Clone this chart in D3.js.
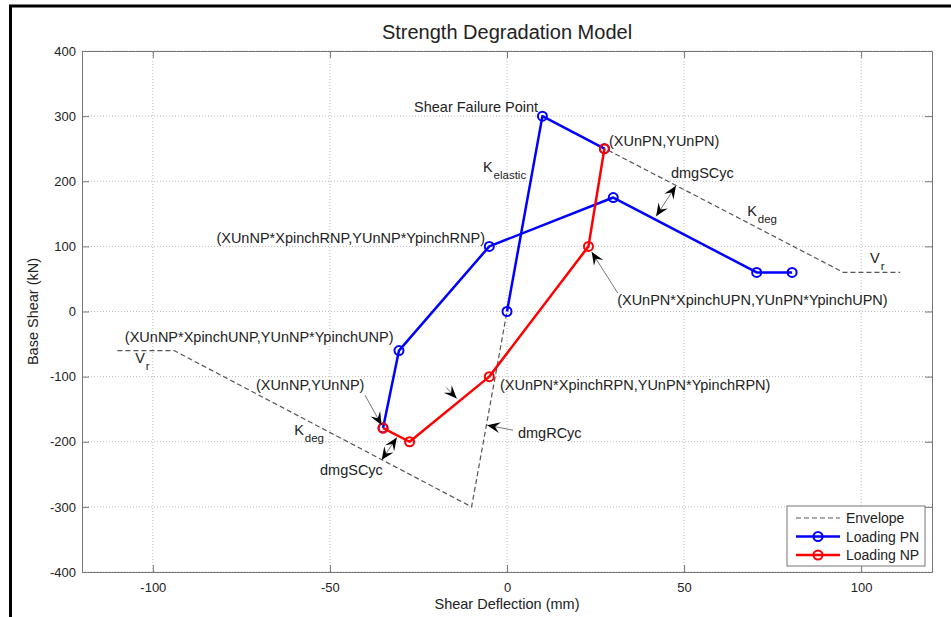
<!DOCTYPE html>
<html>
<head>
<meta charset="utf-8">
<script src="https://cdn.jsdelivr.net/npm/d3@7"></script>
<style>
  body { margin: 0; background: #fff; }
  text { font-family: "Liberation Sans", Arial, sans-serif; fill: #222; }
</style>
</head>
<body>
<script>
// Strength degradation model - hysteresis sketch

// envelope (dashed)
const envelopeX = [-110, -94, -10, 10, 95, 111];
const envelopeY = [-60, -60, -300, 300, 60, 60];

// loading PN: elastic branch, then reloading branch
const pnElasticX = [0, 10, 27.5];
const pnElasticY = [0, 300, 250];
const pnReloadX = [-35, -30.5, -5, 30, 70.5, 80.5];
const pnReloadY = [-179, -60, 100, 175, 60, 60];

// loading NP
const npX = [27.5, 23, -5, -27.5, -35];
const npY = [250, 100, -100, -200, -179];

const xTicks = [-100, -50, 0, 50, 100];
const yTicks = [-400, -300, -200, -100, 0, 100, 200, 300, 400];

// text labels, placed in data units
const labels = [
    { x: 8.8, y: 305.8, t: "Shear Failure Point", anchor: "end" },
    { x: 28.8, y: 253.7, t: "(XUnPN,YUnPN)" },
    { x: -6.8, y: 213.6, t: "K", sub: "elastic" },
    { x: 46.3, y: 204.6, t: "dmgSCyc" },
    { x: 67.8, y: 146.2, t: "K", sub: "deg" },
    { x: 102.5, y: 74.1, t: "V", sub: "r" },
    { x: -6.2, y: 104.8, t: "(XUnNP*XpinchRNP,YUnNP*YpinchRNP)", anchor: "end" },
    { x: 31.1, y: 9.7, t: "(XUnPN*XpinchUPN,YUnPN*YpinchUPN)" },
    { x: -107.9, y: -47.1, t: "(XUnNP*XpinchUNP,YUnNP*YpinchUNP)" },
    { x: -105, y: -79.3, t: "V", sub: "r" },
    { x: -70.9, y: -120.8, t: "(XUnNP,YUnNP)" },
    { x: -60.1, y: -189.8, t: "K", sub: "deg" },
    { x: -52.8, y: -251.2, t: "dmgSCyc" },
    { x: -2.0, y: -120.8, t: "(XUnPN*XpinchRPN,YUnPN*YpinchRPN)" },
    { x: 3.1, y: -194.4, t: "dmgRCyc" }
];

// arrows: from (x1,y1) to tip (x2,y2); both = head at both ends
const arrows = [
    { x1: 31.3, y1: 28.1, x2: 23.9, y2: 91.5 },
    { x1: -40.1, y1: -128.4, x2: -35.4, y2: -174.5 },
    { x1: 1.7, y1: -182.2, x2: -5.6, y2: -174.5 },
    { x1: -17.2, y1: -116.5, x2: -14.2, y2: -133.5 },
    { x1: 42.1, y1: 146.2, x2: 47.7, y2: 193.1, both: true },
    { x1: -35.4, y1: -228.2, x2: -31.1, y2: -193.4, both: true }
];

const width = 951;
const height = 617;
const margin = { top: 51, right: 19, bottom: 45, left: 82 };

const svg = d3.select("body")
    .append("svg")
    .attr("width", width)
    .attr("height", height);

// black frame (only top / left visible in the reference)
svg.append("rect")
    .attr("x", 10.5).attr("y", 6)
    .attr("width", width + 20).attr("height", height + 20)
    .attr("fill", "none")
    .attr("stroke", "#000")
    .attr("stroke-width", 3);

const x = d3.scaleLinear()
    .domain([-120, 120])
    .range([margin.left, width - margin.right]);

const y = d3.scaleLinear()
    .domain([-400, 400])
    .range([height - margin.bottom, margin.top]);

const x0 = x.range()[0], x1 = x.range()[1];
const y0 = y.range()[0], y1 = y.range()[1];

// grid
svg.append("g")
    .selectAll("line.gx")
    .data(xTicks)
    .join("line")
    .attr("x1", d => x(d)).attr("x2", d => x(d))
    .attr("y1", y0).attr("y2", y1)
    .attr("stroke", "#bbb")
    .attr("stroke-dasharray", "1,2");

svg.append("g")
    .selectAll("line.gy")
    .data(yTicks)
    .join("line")
    .attr("x1", x0).attr("x2", x1)
    .attr("y1", d => y(d)).attr("y2", d => y(d))
    .attr("stroke", "#bbb")
    .attr("stroke-dasharray", "1,2");

// axes (ticks pointing inward, on all four sides)
const axisColor = "#777";
const tickLen = 7;
const plain = d => String(d);   // keep the ASCII hyphen like the original

function styleAxis(g) {
    g.select(".domain").attr("stroke", axisColor);
    g.selectAll(".tick line").attr("stroke", axisColor);
    g.selectAll(".tick text")
        .style("font-family", "'Liberation Sans', Arial, sans-serif")
        .style("font-size", "13px")
        .attr("fill", "#222");
}

svg.append("g")
    .attr("transform", `translate(0,${y0})`)
    .call(d3.axisBottom(x).tickValues(xTicks).tickFormat(plain).tickSizeInner(-tickLen).tickSizeOuter(0).tickPadding(11))
    .call(styleAxis);

svg.append("g")
    .attr("transform", `translate(0,${y1})`)
    .call(d3.axisTop(x).tickValues(xTicks).tickSizeInner(-tickLen).tickSizeOuter(0).tickFormat(""))
    .call(styleAxis);

svg.append("g")
    .attr("transform", `translate(${x0},0)`)
    .call(d3.axisLeft(y).tickValues(yTicks).tickFormat(plain).tickSizeInner(-tickLen).tickSizeOuter(0).tickPadding(6))
    .call(styleAxis);

svg.append("g")
    .attr("transform", `translate(${x1},0)`)
    .call(d3.axisRight(y).tickValues(yTicks).tickSizeInner(-tickLen).tickSizeOuter(0).tickFormat(""))
    .call(styleAxis);

// plot lines
const line = d3.line().x(d => x(d[0])).y(d => y(d[1]));
const zip = (xs, ys) => xs.map((v, i) => [v, ys[i]]);

svg.append("path")
    .datum(zip(envelopeX, envelopeY))
    .attr("d", line)
    .attr("fill", "none")
    .attr("stroke", "#555")
    .attr("stroke-width", 1.2)
    .attr("stroke-dasharray", "5,3");

function series(pts, color) {
    svg.append("path")
        .datum(pts)
        .attr("d", line)
        .attr("fill", "none")
        .attr("stroke", color)
        .attr("stroke-width", 2.5)
        .attr("stroke-linejoin", "round");
    svg.append("g")
        .selectAll("circle")
        .data(pts)
        .join("circle")
        .attr("cx", d => x(d[0]))
        .attr("cy", d => y(d[1]))
        .attr("r", 4.5)
        .attr("fill", "none")
        .attr("stroke", color)
        .attr("stroke-width", 2);
}

series(zip(pnElasticX, pnElasticY), "#0000ff");
series(zip(pnReloadX, pnReloadY), "#0000ff");
series(zip(npX, npY), "#ff0000");

// labels
labels.forEach(l => {
    const t = svg.append("text")
        .attr("x", x(l.x))
        .attr("y", y(l.y))
        .attr("text-anchor", l.anchor || "start")
        .style("font-size", "14.5px")
        .text(l.t);
    if (l.sub) {
        t.append("tspan")
            .attr("dy", 7)
            .attr("dx", 1)
            .style("font-size", "11.5px")
            .text(l.sub);
    }
});

// arrows
function arrowHead(px, py, fromX, fromY) {
    const ang = Math.atan2(py - fromY, px - fromX) * 180 / Math.PI;
    svg.append("path")
        .attr("d", "M0,0 L-13,-5.5 L-8,0 L-13,5.5 Z")
        .attr("transform", `translate(${px},${py}) rotate(${ang})`)
        .attr("fill", "#000");
}

arrows.forEach(a => {
    const ax1 = x(a.x1), ay1 = y(a.y1), ax2 = x(a.x2), ay2 = y(a.y2);
    svg.append("line")
        .attr("x1", ax1).attr("y1", ay1)
        .attr("x2", ax2).attr("y2", ay2)
        .attr("stroke", "#777")
        .attr("stroke-width", 1);
    arrowHead(ax2, ay2, ax1, ay1);
    if (a.both) arrowHead(ax1, ay1, ax2, ay2);
});

// title and axis labels
svg.append("text")
    .attr("x", (x0 + x1) / 2)
    .attr("y", 39)
    .attr("text-anchor", "middle")
    .style("font-size", "20px")
    .text("Strength Degradation Model");

svg.append("text")
    .attr("x", (x0 + x1) / 2)
    .attr("y", 609)
    .attr("text-anchor", "middle")
    .style("font-size", "14.5px")
    .text("Shear Deflection (mm)");

svg.append("text")
    .attr("transform", `translate(38,${(y0 + y1) / 2}) rotate(-90)`)
    .attr("text-anchor", "middle")
    .style("font-size", "14.5px")
    .text("Base Shear (kN)");

// legend
const legendItems = [
    { name: "Envelope", color: "#555", dash: "5,3", marker: false },
    { name: "Loading PN", color: "#0000ff", dash: null, marker: true },
    { name: "Loading NP", color: "#ff0000", dash: null, marker: true }
];

const legend = svg.append("g").attr("transform", "translate(787,506)");
legend.append("rect")
    .attr("width", 138).attr("height", 60)
    .attr("fill", "#fff")
    .attr("stroke", "#777");

legendItems.forEach((d, i) => {
    const ly = 12 + i * 18.5;
    legend.append("line")
        .attr("x1", 9).attr("x2", 53)
        .attr("y1", ly).attr("y2", ly)
        .attr("stroke", d.color)
        .attr("stroke-width", d.marker ? 2.5 : 1.2)
        .attr("stroke-dasharray", d.dash);
    if (d.marker) {
        legend.append("circle")
            .attr("cx", 31).attr("cy", ly).attr("r", 4.5)
            .attr("fill", "none")
            .attr("stroke", d.color)
            .attr("stroke-width", 2);
    }
    legend.append("text")
        .attr("x", 59).attr("y", ly + 5)
        .style("font-size", "14px")
        .text(d.name);
});
</script>
</body>
</html>
